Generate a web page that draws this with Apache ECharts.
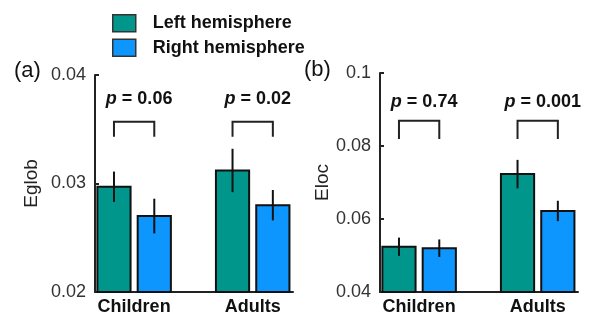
<!DOCTYPE html>
<html><head><meta charset="utf-8">
<script src="https://cdn.jsdelivr.net/npm/echarts@6/dist/echarts.min.js"></script>
<style>html,body{margin:0;padding:0;background:#fff}#c{width:593px;height:320px}</style>
</head><body><div id="c"></div>
<script>
var categories = ['Children', 'Adults'];
var seriesNames = ['Left hemisphere', 'Right hemisphere'];
// Panel (a) Eglob
var eglobLeft = [0.0297, 0.0312];
var eglobLeftErr = [0.0014, 0.0020];
var eglobRight = [0.0270, 0.0280];
var eglobRightErr = [0.0016, 0.0014];
// Panel (b) Eloc
var elocLeft = [0.0524, 0.0723];
var elocLeftErr = [0.0025, 0.0039];
var elocRight = [0.0520, 0.0622];
var elocRightErr = [0.0024, 0.0028];
// p-values
var pA = ['0.06', '0.02'];
var pB = ['0.74', '0.001'];
// bracket levels [top, leg end], label level
var bracketA = [0.0357, 0.0343], labelA = 0.0378;
var bracketB = [0.0869, 0.0819], labelB = 0.0921;
// axis ticks
var yTicksA = { min: 0.02, max: 0.04, interval: 0.01 };
var yTicksB = { min: 0.04, max: 0.1, interval: 0.02 };

var colors = ['#00968c', '#0e96ff'];
var OFF = 0.17, BW = 0.28;

function rows(vals, errs) {
  return vals.map(function (v, i) { return [i + 1, v, errs[i]]; });
}
function barRender(offset, ymin, color) {
  return function (params, api) {
    var x = api.value(0) + offset, v = api.value(1), e = api.value(2);
    var tl = api.coord([x - BW / 2, v]);
    var br = api.coord([x + BW / 2, ymin]);
    var eTop = api.coord([x, v + e]);
    var eBot = api.coord([x, v - e]);
    return { type: 'group', children: [
      { type: 'rect', shape: { x: tl[0], y: tl[1], width: br[0] - tl[0], height: br[1] - tl[1] },
        style: { fill: color, stroke: '#111', lineWidth: 2 } },
      { type: 'line', shape: { x1: eTop[0], y1: eTop[1], x2: eBot[0], y2: eBot[1] },
        style: { stroke: '#111', lineWidth: 2 } }
    ]};
  };
}
function bracketRender(level, labelY, pvals) {
  return function (params, api) {
    var x = api.value(0);
    var a = api.coord([x - OFF, level[1]]), b = api.coord([x - OFF, level[0]]);
    var c = api.coord([x + OFF, level[0]]), d = api.coord([x + OFF, level[1]]);
    var t = api.coord([x, labelY]);
    return { type: 'group', children: [
      { type: 'polyline', shape: { points: [a, b, c, d] }, style: { stroke: '#222', lineWidth: 2, fill: null } },
      { type: 'text', x: t[0] + 5, y: t[1], style: {
          text: '{i|p} = ' + pvals[params.dataIndex], align: 'center', verticalAlign: 'middle',
          fill: '#111', font: 'bold 18px "Liberation Sans", Arial, sans-serif',
          rich: { i: { fontStyle: 'italic', fontWeight: 'bold', fontSize: 18, fontFamily: '"Liberation Sans", Arial, sans-serif', fill: '#111' } }
      } }
    ]};
  };
}
var FONT = '"Liberation Sans", Arial, sans-serif';
function xAxis(gi) {
  return { type: 'value', gridIndex: gi, min: 0.67, max: 2.34,
    axisLine: { show: true, lineStyle: { color: '#222', width: 2 } },
    axisTick: { show: false }, splitLine: { show: false },
    axisLabel: { customValues: [1, 2], margin: 6, color: '#111', fontSize: 18, fontWeight: 'bold', fontFamily: FONT,
      formatter: function (v) { return categories[Math.round(v) - 1]; } } };
}
function yAxis(gi, t, name, gap) {
  return { type: 'value', gridIndex: gi, min: t.min, max: t.max, interval: t.interval,
    name: name, nameLocation: 'middle', nameGap: gap, nameTextStyle: { fontSize: 19, color: '#222', fontFamily: FONT },
    axisLine: { show: true, lineStyle: { color: '#222', width: 2 } },
    axisTick: { show: true, inside: true, length: 4, lineStyle: { color: '#222', width: 2 } },
    splitLine: { show: false },
    axisLabel: { margin: 9, color: '#333', fontSize: 18, fontFamily: FONT } };
}
var chart = echarts.init(document.getElementById('c'), null, { renderer: 'canvas' });
chart.setOption({
  animation: false,
  backgroundColor: '#fff',
  grid: [
    { left: 95, top: 75, width: 198, height: 217 },
    { left: 380, top: 73, width: 198, height: 219 }
  ],
  legend: { data: seriesNames, orient: 'vertical', left: 107, top: 9, itemWidth: 23, itemHeight: 17, itemGap: 6,
    icon: 'rect', itemStyle: { borderColor: '#333', borderWidth: 1.5 },
    textStyle: { fontSize: 18, fontWeight: 'bold', color: '#111', fontFamily: FONT, padding: [0, 0, 0, 12] } },
  graphic: [
    { type: 'text', left: 14, top: 60, style: { text: '(a)', font: '22px ' + FONT, fill: '#111' } },
    { type: 'text', left: 304, top: 59, style: { text: '(b)', font: '22px ' + FONT, fill: '#111' } }
  ],
  xAxis: [xAxis(0), xAxis(1)],
  yAxis: [yAxis(0, yTicksA, 'Eglob', 54), yAxis(1, yTicksB, 'Eloc', 48)],
  series: [
    { type: 'custom', name: seriesNames[0], xAxisIndex: 0, yAxisIndex: 0, itemStyle: { color: colors[0] },
      renderItem: barRender(-OFF, yTicksA.min, colors[0]), data: rows(eglobLeft, eglobLeftErr), clip: false },
    { type: 'custom', name: seriesNames[1], xAxisIndex: 0, yAxisIndex: 0, itemStyle: { color: colors[1] },
      renderItem: barRender(OFF, yTicksA.min, colors[1]), data: rows(eglobRight, eglobRightErr), clip: false },
    { type: 'custom', name: seriesNames[0], xAxisIndex: 1, yAxisIndex: 1, itemStyle: { color: colors[0] },
      renderItem: barRender(-OFF, yTicksB.min, colors[0]), data: rows(elocLeft, elocLeftErr), clip: false },
    { type: 'custom', name: seriesNames[1], xAxisIndex: 1, yAxisIndex: 1, itemStyle: { color: colors[1] },
      renderItem: barRender(OFF, yTicksB.min, colors[1]), data: rows(elocRight, elocRightErr), clip: false },
    { type: 'custom', name: 'bracketsA', xAxisIndex: 0, yAxisIndex: 0,
      renderItem: bracketRender(bracketA, labelA, pA), data: [[1], [2]], clip: false },
    { type: 'custom', name: 'bracketsB', xAxisIndex: 1, yAxisIndex: 1,
      renderItem: bracketRender(bracketB, labelB, pB), data: [[1], [2]], clip: false }
  ]
});
</script></body></html>
